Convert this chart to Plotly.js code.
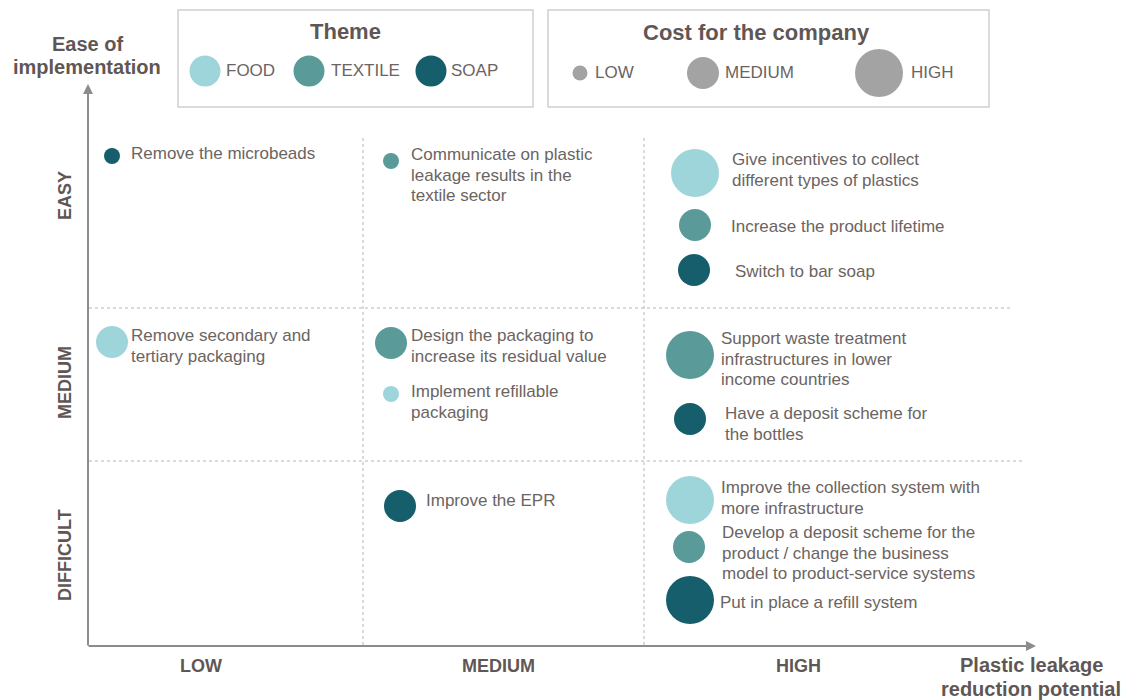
<!DOCTYPE html>
<html>
<head>
<meta charset="utf-8">
<script src="https://cdn.plot.ly/plotly-3.0.1.min.js"></script>
<style>html,body{margin:0;padding:0;background:#fff;}#chart{width:1126px;height:700px;}</style>
</head>
<body>
<div id="chart"></div>
<script>
// ---------------- DATA ----------------
const items = [
  "Remove the microbeads",
  "Communicate on plastic|leakage results in the|textile sector",
  "Give incentives to collect|different types of plastics",
  "Increase the product lifetime",
  "Switch to bar soap",
  "Remove secondary and|tertiary packaging",
  "Design the packaging to|increase its residual value",
  "Implement refillable|packaging",
  "Support waste treatment|infrastructures in lower|income countries",
  "Have a deposit scheme for|the bottles",
  "Improve the EPR",
  "Improve the collection system with|more infrastructure",
  "Develop a deposit scheme for the|product / change the business|model to product-service systems",
  "Put in place a refill system"
];
const themes = ["SOAP","TEXTILE","FOOD","TEXTILE","SOAP","FOOD","TEXTILE","FOOD","TEXTILE","SOAP","SOAP","FOOD","TEXTILE","SOAP"];
const costs = ["LOW","LOW","HIGH","MEDIUM","MEDIUM","MEDIUM","MEDIUM","LOW","HIGH","MEDIUM","MEDIUM","HIGH","MEDIUM","HIGH"];
const potentials = ["LOW","MEDIUM","HIGH","HIGH","HIGH","LOW","MEDIUM","MEDIUM","HIGH","HIGH","MEDIUM","HIGH","HIGH","HIGH"];
const eases = ["EASY","EASY","EASY","EASY","EASY","MEDIUM","MEDIUM","MEDIUM","MEDIUM","MEDIUM","DIFFICULT","DIFFICULT","DIFFICULT","DIFFICULT"];
const themeLevels = ["FOOD","TEXTILE","SOAP"];
const costLevels = ["LOW","MEDIUM","HIGH"];
const potentialLevels = ["LOW","MEDIUM","HIGH"];
const easeLevels = ["EASY","MEDIUM","DIFFICULT"];

// ---------------- STYLE / LAYOUT ----------------
const themeColors = {FOOD:"#9ed5da", TEXTILE:"#5a9b99", SOAP:"#165e6c"};
const costSize = {LOW:16, MEDIUM:32, HIGH:48};
const legendCostSize = {LOW:15, MEDIUM:32, HIGH:48};
const txt = "#6b6462", txtBold = "#5f5755", axisCol = "#8c8c8c", gridCol = "#b5b5b5";
const FONT = "Liberation Sans, Arial, sans-serif";
const LINE = 20.5;
const PAD = 2; // annotation inner padding compensation

// cell placement of bubbles (slots in order of appearance in each cell)
const cellLayout = {
  "LOW|EASY":        {slots:[{x:112,y:156,tx:131,ty:153}]},
  "MEDIUM|EASY":     {slots:[{x:391,y:161,tx:411,ty:175}]},
  "HIGH|EASY":       {slots:[{x:695,y:173,tx:732,ty:170},{x:695,y:225,tx:731,ty:226},{x:694,y:270,tx:735,ty:271}]},
  "LOW|MEDIUM":      {slots:[{x:112,y:342,tx:131,ty:346}]},
  "MEDIUM|MEDIUM":   {slots:[{x:391,y:343,tx:411,ty:346},{x:391,y:394,tx:411,ty:402}]},
  "HIGH|MEDIUM":     {slots:[{x:690,y:355,tx:721,ty:359},{x:690,y:419,tx:725,ty:424}]},
  "MEDIUM|DIFFICULT":{slots:[{x:400,y:506,tx:426,ty:500}]},
  "HIGH|DIFFICULT":  {slots:[{x:690,y:500,tx:721,ty:498},{x:689,y:547,tx:722,ty:553},{x:690,y:600,tx:720,ty:602}]}
};
const colLabelX = {LOW:201, MEDIUM:498, HIGH:798};
const rowLabelY = {EASY:196, MEDIUM:383, DIFFICULT:555};

// ---------------- BUILD ----------------
const counters = {};
const pos = items.map((_, i) => {
  const key = potentials[i] + "|" + eases[i];
  counters[key] = (counters[key] || 0);
  const s = cellLayout[key].slots[counters[key]];
  counters[key]++;
  return s;
});

const traces = [];
const annotations = [];

themeLevels.forEach(th => {
  const idx = items.map((_, i) => i).filter(i => themes[i] === th);
  traces.push({
    type: "scatter", mode: "markers", hoverinfo: "skip", showlegend: false,
    x: idx.map(i => pos[i].x), y: idx.map(i => pos[i].y),
    marker: {color: themeColors[th], size: idx.map(i => costSize[costs[i]]), line: {width: 0}, opacity: 1}
  });
});

items.forEach((label, i) => {
  const lines = label.split("|");
  const n = lines.length;
  lines.forEach((ln, k) => {
    annotations.push({
      x: pos[i].tx - PAD, y: pos[i].ty + (k - (n - 1) / 2) * LINE, xref: "x", yref: "y",
      text: ln, showarrow: false, xanchor: "left", yanchor: "middle",
      font: {family: FONT, size: 17, color: txt}
    });
  });
});

// Theme legend
const themeLegPos = {FOOD:{x:205, tx:226}, TEXTILE:{x:309, tx:331}, SOAP:{x:431, tx:451}};
traces.push({
  type: "scatter", mode: "markers", hoverinfo: "skip", showlegend: false,
  x: themeLevels.map(t => themeLegPos[t].x), y: themeLevels.map(() => 71),
  marker: {color: themeLevels.map(t => themeColors[t]), size: 31, line: {width: 0}, opacity: 1}
});
themeLevels.forEach(t => annotations.push({
  x: themeLegPos[t].tx - PAD, y: 70, text: t, showarrow: false, xanchor: "left", yanchor: "middle",
  font: {family: FONT, size: 17, color: txt}
}));
// Cost legend
const costLegPos = {LOW:{x:580, tx:595}, MEDIUM:{x:703, tx:725}, HIGH:{x:879, tx:911}};
traces.push({
  type: "scatter", mode: "markers", hoverinfo: "skip", showlegend: false,
  x: costLevels.map(c => costLegPos[c].x), y: costLevels.map(() => 73),
  marker: {color: "#a3a3a3", size: costLevels.map(c => legendCostSize[c]), line: {width: 0}, opacity: 1}
});
costLevels.forEach(c => annotations.push({
  x: costLegPos[c].tx - PAD, y: 72, text: c, showarrow: false, xanchor: "left", yanchor: "middle",
  font: {family: FONT, size: 17, color: txt}
}));
annotations.push({x:345, y:31, text:"<b>Theme</b>", showarrow:false, font:{family:FONT, size:22, color:txtBold}});
annotations.push({x:756, y:32, text:"<b>Cost for the company</b>", showarrow:false, font:{family:FONT, size:22, color:txtBold}});

// axis titles
annotations.push({x:87, y:44, text:"<b>Ease of</b>", showarrow:false, font:{family:FONT, size:20, color:txtBold}});
annotations.push({x:87, y:67, text:"<b>implementation</b>", showarrow:false, font:{family:FONT, size:20, color:txtBold}});
annotations.push({x:1031, y:665, text:"<b>Plastic leakage</b>", showarrow:false, font:{family:FONT, size:20, color:txtBold}});
annotations.push({x:1031, y:689, text:"<b>reduction potential</b>", showarrow:false, font:{family:FONT, size:20, color:txtBold}});

potentialLevels.forEach(p => annotations.push({
  x: colLabelX[p], y: 666, text: "<b>" + p + "</b>", showarrow: false,
  font: {family: FONT, size: 18, color: txtBold}
}));
easeLevels.forEach(e => annotations.push({
  x: 65, y: rowLabelY[e], text: "<b>" + e + "</b>", showarrow: false, textangle: -90,
  font: {family: FONT, size: 18, color: txtBold}
}));

// axis arrows
annotations.push({x:88, y:84, ax:88, ay:647, xref:"x", yref:"y", axref:"x", ayref:"y", text:"",
  showarrow:true, arrowhead:2, arrowsize:1, arrowwidth:2, arrowcolor:axisCol});
annotations.push({x:1036, y:646, ax:87, ay:646, xref:"x", yref:"y", axref:"x", ayref:"y", text:"",
  showarrow:true, arrowhead:2, arrowsize:1, arrowwidth:2, arrowcolor:axisCol});

const shapes = [
  {type:"rect", x0:178, x1:533, y0:10, y1:107, line:{color:"#cfcfcf", width:1.5}},
  {type:"rect", x0:548, x1:989, y0:10, y1:107, line:{color:"#cfcfcf", width:1.5}},
  {type:"line", x0:363, x1:363, y0:138, y1:646, line:{color:gridCol, width:1, dash:"dot"}},
  {type:"line", x0:644, x1:644, y0:138, y1:646, line:{color:gridCol, width:1, dash:"dot"}},
  {type:"line", x0:89, x1:1012, y0:308, y1:308, line:{color:gridCol, width:1, dash:"dot"}},
  {type:"line", x0:89, x1:1025, y0:461, y1:461, line:{color:gridCol, width:1, dash:"dot"}}
];

const layout = {
  width: 1126, height: 700,
  margin: {l:0, r:0, t:0, b:0},
  paper_bgcolor: "#ffffff", plot_bgcolor: "#ffffff",
  xaxis: {range:[0,1126], visible:false, fixedrange:true},
  yaxis: {range:[700,0], visible:false, fixedrange:true},
  shapes: shapes, annotations: annotations, showlegend: false,
  font: {family: FONT}
};

Plotly.newPlot("chart", traces, layout, {staticPlot:true, displayModeBar:false});
</script>
</body>
</html>
